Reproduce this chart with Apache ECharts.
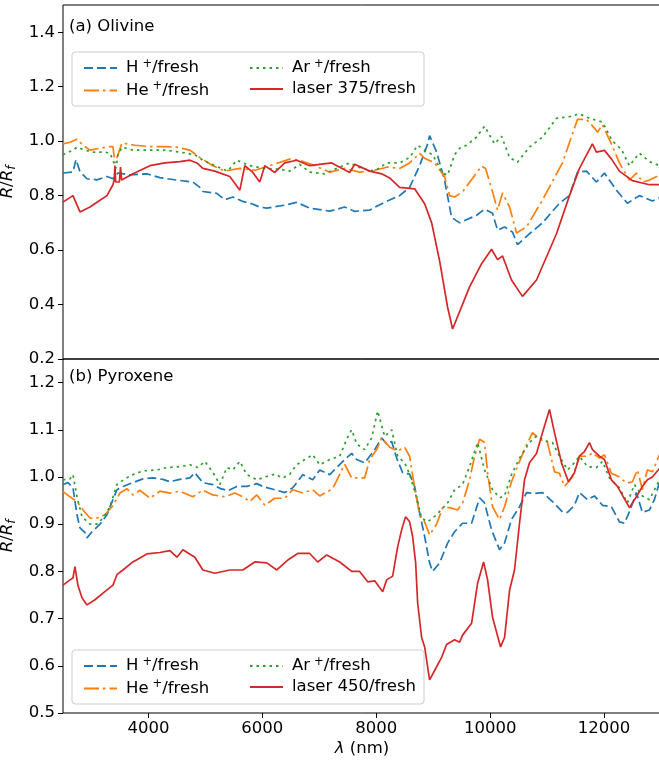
<!DOCTYPE html>
<html><head><meta charset="utf-8">
<script src="https://cdn.jsdelivr.net/npm/echarts@6/dist/echarts.min.js"></script>
<style>html,body{margin:0;padding:0;background:#fff}#c{width:659px;height:762px}</style>
</head><body><div id="c"></div>
<script>
// ---- axis ticks ----
const xTicks = [4000, 6000, 8000, 10000, 12000];
const olTicks = [0.2, 0.4, 0.6, 0.8, 1.0, 1.2, 1.4];
const pyTicks = [0.5, 0.6, 0.7, 0.8, 0.9, 1.0, 1.1, 1.2];

// ---- (a) Olivine ----
const olH_x = [2500,2675,2728,2798,2921,3096,3272,3377,3465,3675,3973,4201,4500,4780,4903,4956,5200,5341,5482,5640,5815,5955,6078,6394,6604,6832,7183,7446,7622,7885,8148,8411,8586,8762,8903,8937,9060,9200,9323,9464,9499,9762,9902,10042,10130,10253,10393,10481,10691,10919,11217,11393,11533,11691,11866,12007,12217,12410,12621,12849,13000];
const olH_y = [0.883,0.887,0.932,0.888,0.862,0.858,0.87,0.862,0.883,0.876,0.88,0.866,0.857,0.85,0.83,0.815,0.808,0.785,0.795,0.78,0.77,0.758,0.754,0.765,0.775,0.754,0.743,0.758,0.742,0.747,0.776,0.80,0.83,0.91,0.99,1.02,0.96,0.857,0.72,0.70,0.70,0.728,0.75,0.735,0.673,0.685,0.666,0.62,0.66,0.70,0.772,0.80,0.886,0.89,0.85,0.883,0.82,0.772,0.80,0.78,0.795];

const olHe_x = [2500,2623,2746,2851,2974,3149,3324,3377,3412,3465,3535,3763,4026,4254,4500,4728,4903,5131,5341,5605,5868,6131,6482,6657,6920,7183,7446,7709,7973,8201,8411,8586,8762,8850,9025,9200,9288,9376,9516,9692,9850,9920,10042,10130,10218,10341,10463,10639,10919,11270,11533,11691,11831,11884,11972,12129,12270,12445,12568,12673,12796,13000];
const olHe_y = [0.99,0.996,1.007,0.985,0.967,0.974,0.98,0.98,0.92,0.95,0.993,0.985,0.98,0.98,0.978,0.967,0.94,0.91,0.89,0.90,0.893,0.91,0.934,0.93,0.91,0.886,0.90,0.886,0.893,0.905,0.90,0.92,0.955,0.937,0.92,0.87,0.80,0.795,0.814,0.864,0.908,0.90,0.814,0.747,0.81,0.758,0.663,0.685,0.784,0.92,1.08,1.08,1.048,1.033,1.06,0.99,0.92,0.857,0.883,0.85,0.857,0.878];

const olAr_x = [2500,2675,2746,2886,3026,3237,3324,3377,3430,3465,3535,3728,4026,4289,4552,4815,4956,5166,5394,5552,5780,6043,6306,6482,6657,6832,7096,7306,7534,7744,7973,8183,8411,8586,8727,8850,8990,9165,9253,9376,9464,9586,9762,9902,10077,10200,10341,10481,10691,10919,11165,11393,11568,11744,11972,12147,12305,12445,12621,12796,13000];
const olAr_y = [0.95,0.967,0.978,0.967,0.96,0.96,0.956,0.93,0.90,0.95,0.978,0.967,0.967,0.967,0.96,0.95,0.93,0.91,0.89,0.93,0.91,0.90,0.897,0.89,0.915,0.886,0.88,0.90,0.92,0.90,0.89,0.92,0.92,0.94,0.985,0.967,0.95,0.883,0.875,0.95,0.974,0.985,1.015,1.055,0.99,1.018,0.94,0.923,0.978,1.015,1.084,1.09,1.10,1.084,1.07,1.0,0.97,0.91,0.956,0.925,0.908];

const olLaser_x = [2500,2675,2798,2850,2974,3149,3272,3377,3400,3412,3425,3490,3510,3530,3728,4026,4289,4552,4728,4850,4956,5166,5429,5605,5692,5833,5955,6043,6218,6394,6604,6832,7218,7534,7622,7885,8095,8236,8411,8674,8850,8973,9113,9253,9341,9639,9850,10025,10130,10218,10375,10568,10814,11165,11393,11568,11796,11866,12007,12129,12270,12498,12796,13000];
const olLaser_y = [0.776,0.80,0.74,0.745,0.758,0.783,0.80,0.84,0.86,0.91,0.85,0.85,0.905,0.857,0.88,0.91,0.92,0.925,0.93,0.92,0.90,0.89,0.87,0.82,0.91,0.885,0.85,0.91,0.885,0.92,0.93,0.91,0.92,0.885,0.915,0.89,0.88,0.865,0.83,0.825,0.77,0.70,0.56,0.39,0.31,0.465,0.55,0.603,0.565,0.578,0.49,0.43,0.49,0.66,0.80,0.90,0.99,0.96,0.966,0.935,0.89,0.855,0.84,0.84];

// ---- (b) Pyroxene ----
const pyH_x = [2500,2588,2675,2746,2798,2886,2921,3009,3149,3272,3377,3447,3552,3728,3903,4079,4254,4377,4552,4728,4815,4956,5131,5254,5394,5552,5727,5903,6008,6218,6394,6534,6710,6885,7008,7183,7446,7569,7657,7797,7973,8095,8183,8271,8359,8464,8586,8674,8762,8850,8937,8990,9113,9253,9376,9516,9674,9815,9902,10025,10165,10253,10375,10516,10639,10779,10919,11095,11270,11358,11480,11568,11709,11831,11972,12129,12270,12357,12445,12568,12673,12796,12884,13000];
const pyH_y = [0.984,0.988,0.977,0.92,0.892,0.882,0.871,0.884,0.90,0.92,0.952,0.973,0.98,0.988,0.996,0.998,0.995,0.99,0.995,0.998,1.009,0.988,0.984,0.976,0.971,0.98,0.98,0.986,0.98,0.973,0.967,0.977,1.005,0.994,1.015,1.005,1.037,1.05,1.037,1.03,1.058,1.083,1.07,1.075,1.04,1.009,1.006,0.98,0.924,0.874,0.818,0.80,0.818,0.86,0.884,0.902,0.902,0.956,0.945,0.888,0.846,0.86,0.91,0.937,0.967,0.965,0.967,0.948,0.926,0.925,0.94,0.967,0.952,0.96,0.94,0.937,0.905,0.902,0.926,0.967,0.925,0.93,0.952,1.0];

const pyHe_x = [2500,2623,2746,2851,2974,3096,3237,3377,3500,3623,3728,3851,4026,4201,4377,4552,4780,4956,5131,5341,5517,5657,5780,5903,6043,6218,6394,6534,6710,6885,7008,7236,7446,7569,7797,7885,8008,8095,8236,8376,8499,8586,8674,8762,8850,8937,9060,9165,9288,9428,9516,9639,9727,9815,9902,9955,10042,10165,10253,10375,10516,10639,10744,10867,11007,11130,11217,11305,11445,11568,11709,11796,11919,12007,12129,12270,12393,12498,12586,12673,12761,12849,13000];
const pyHe_y = [0.969,0.958,0.948,0.93,0.913,0.913,0.92,0.939,0.966,0.975,0.962,0.972,0.955,0.97,0.966,0.97,0.958,0.972,0.962,0.958,0.966,0.958,0.948,0.962,0.94,0.955,0.955,0.973,0.966,0.973,0.96,0.975,1.027,0.998,0.998,1.037,1.058,1.083,1.063,1.055,1.063,1.044,0.977,0.92,0.905,0.877,0.90,0.935,0.935,0.93,0.945,0.994,1.044,1.08,1.073,1.009,0.937,0.91,0.937,0.99,1.033,1.068,1.094,1.08,1.073,1.011,1.008,0.98,1.0,1.044,1.044,1.051,1.04,1.047,1.008,1.0,0.987,0.99,1.015,0.973,1.015,1.011,1.055];

const pyAr_x = [2500,2623,2675,2746,2833,2974,3096,3202,3324,3447,3587,3728,3903,4149,4324,4552,4728,4868,4991,5131,5254,5377,5482,5605,5727,5903,6043,6218,6359,6482,6604,6745,6885,7008,7183,7359,7481,7569,7657,7797,7920,8025,8148,8271,8376,8499,8586,8709,8797,8903,9060,9253,9376,9516,9639,9780,9902,10042,10165,10253,10375,10516,10691,10814,10954,11095,11217,11358,11480,11568,11709,11866,11972,12094,12270,12410,12533,12673,12796,13000];
const pyAr_y = [0.994,0.996,1.005,0.958,0.916,0.90,0.90,0.913,0.937,0.984,0.996,1.005,1.013,1.015,1.02,1.022,1.026,1.02,1.033,1.01,0.984,1.02,1.015,1.033,1.005,0.994,1.0,1.006,0.998,1.006,1.026,1.037,1.047,1.026,1.037,1.044,1.08,1.10,1.07,1.058,1.083,1.14,1.086,1.10,1.044,1.03,1.006,0.956,0.913,0.905,0.92,0.945,0.973,0.984,1.022,1.073,1.015,0.973,0.956,0.96,1.005,1.04,1.073,1.087,1.077,1.073,1.044,1.015,1.03,1.044,1.022,1.02,1.033,0.998,0.977,0.945,0.984,0.96,0.952,1.0];

const pyLaser_x = [2500,2623,2675,2710,2763,2833,2921,3061,3202,3377,3447,3552,3728,3973,4201,4377,4500,4605,4815,4956,5166,5429,5657,5868,6078,6254,6447,6622,6832,6973,7131,7359,7569,7709,7850,7973,8113,8183,8288,8376,8446,8516,8586,8639,8692,8727,8797,8850,8937,9025,9148,9235,9376,9464,9516,9674,9780,9885,9955,10042,10183,10253,10341,10428,10516,10604,10691,10814,10919,11042,11130,11253,11375,11480,11568,11656,11744,11796,11919,12007,12129,12235,12445,12568,12673,12761,12849,13000];
const pyLaser_y = [0.771,0.782,0.786,0.81,0.77,0.744,0.729,0.74,0.754,0.771,0.793,0.803,0.82,0.837,0.84,0.844,0.83,0.846,0.83,0.803,0.796,0.803,0.803,0.82,0.818,0.803,0.824,0.838,0.838,0.82,0.835,0.82,0.80,0.80,0.778,0.78,0.757,0.782,0.79,0.852,0.888,0.916,0.905,0.874,0.818,0.733,0.66,0.64,0.57,0.59,0.618,0.645,0.655,0.65,0.665,0.69,0.775,0.82,0.782,0.703,0.64,0.66,0.76,0.803,0.902,0.994,1.03,1.05,1.094,1.143,1.094,1.03,0.99,1.009,1.044,1.054,1.073,1.058,1.044,1.037,0.994,0.98,0.935,0.958,0.98,0.994,1.0,1.022];

// ---- styles ----
const FONT = 'DejaVu Sans';
const C = {H: '#1f77b4', He: '#ff7f0e', Ar: '#2ca02c', L: '#d62728'};
const LW = 1.7;
const DASH = {H: [9, 4], He: [15, 4, 2.5, 4], Ar: [2.5, 4], L: 'solid'};

const zip = (xs, ys) => xs.map((x, i) => [x, ys[i]]);
function mk(name, key, xs, ys, idx) {
  return {
    name, type: 'line', xAxisIndex: idx, yAxisIndex: idx,
    data: zip(xs, ys), symbol: 'none', showSymbol: false, animation: false,
    lineStyle: {color: C[key], width: LW, type: DASH[key]},
    itemStyle: {color: C[key]}, z: 3
  };
}

const richLegend = {
  a: {fontFamily: FONT, fontSize: 16.5, lineHeight: 20, color: '#000'},
  s: {fontFamily: FONT, fontSize: 11.5, lineHeight: 12, verticalAlign: 'top', padding: [0, 0, 0, 4], color: '#000'}
};
function legFmt(name) {
  const m = name.match(/^(H|He|Ar)\+\/fresh$/);
  if (m) return '{a|' + m[1] + '}{s|+}{a|/fresh}';
  return '{a|' + name + '}';
}
function legend(left, top, data) {
  return {
    left, top, orient: 'vertical', itemWidth: 33, itemHeight: 14, itemGap: 4,
    data, formatter: legFmt, selectedMode: false, z: 10,
    itemStyle: {opacity: 0, borderWidth: 0},
    textStyle: {rich: richLegend, padding: [0, 0, 0, 4]}
  };
}

const yName = {
  name: '{i|R}{n|/}{i|R}{f|f}',
  nameLocation: 'middle', nameRotate: 90, nameGap: 36,
  nameTextStyle: {rich: {
    i: {fontFamily: FONT, fontSize: 16.5, fontStyle: 'italic', color: '#000', lineHeight: 20},
    n: {fontFamily: FONT, fontSize: 16.5, color: '#000', lineHeight: 20},
    f: {fontFamily: FONT, fontSize: 12, fontStyle: 'italic', color: '#000', lineHeight: 12, verticalAlign: 'bottom'}
  }}
};

function yAxis(idx, min, max, ticks) {
  return Object.assign({
    type: 'value', gridIndex: idx, min, max,
    axisLine: {show: false}, splitLine: {show: false},
    axisTick: {show: true, length: 5, lineStyle: {color: '#000', width: 1}, customValues: ticks},
    axisLabel: {customValues: ticks, formatter: v => v.toFixed(1), fontFamily: FONT, fontSize: 16.5, color: '#000', margin: 8}
  }, yName);
}

const gridBase = {left: 63, width: 598, height: 354, show: true, borderColor: '#000', borderWidth: 1,
  backgroundColor: 'transparent', containLabel: false, outerBoundsMode: 'none'};

const option = {
  backgroundColor: '#fff',
  animation: false,
  grid: [
    Object.assign({top: 5}, gridBase),
    Object.assign({top: 359}, gridBase)
  ],
  xAxis: [
    {type: 'value', gridIndex: 0, min: 2500, max: 13000, axisLine: {show: false}, axisTick: {show: false}, axisLabel: {show: false}, splitLine: {show: false}},
    {type: 'value', gridIndex: 1, min: 2500, max: 13000, axisLine: {show: false}, splitLine: {show: false},
     axisTick: {show: true, length: 5, lineStyle: {color: '#000', width: 1}, customValues: xTicks},
     axisLabel: {customValues: xTicks, formatter: v => String(v), fontFamily: FONT, fontSize: 16.5, color: '#000', margin: 7},
     name: '{i|λ}{n| (nm)}', nameLocation: 'middle', nameGap: 27,
     nameTextStyle: {rich: {
       i: {fontFamily: FONT, fontSize: 16.5, fontStyle: 'italic', color: '#000'},
       n: {fontFamily: FONT, fontSize: 16.5, color: '#000'}
     }}}
  ],
  yAxis: [yAxis(0, 0.2, 1.5, olTicks), yAxis(1, 0.5, 1.25, pyTicks)],
  legend: [
    legend(78, 53, ['H+/fresh', 'He+/fresh']),
    legend(244, 53, ['Ar+/fresh', 'laser 375/fresh']),
    legend(78, 651, ['H+/fresh', 'He+/fresh']),
    legend(244, 651, ['Ar+/fresh', 'laser 450/fresh'])
  ],
  graphic: [
    {type: 'rect', z: 1, shape: {x: 72, y: 52, width: 352, height: 54, r: 3}, style: {fill: '#fff', stroke: '#cccccc', lineWidth: 1}},
    {type: 'rect', z: 1, shape: {x: 72, y: 650, width: 352, height: 54, r: 3}, style: {fill: '#fff', stroke: '#cccccc', lineWidth: 1}},
    {type: 'text', z: 5, style: {x: 69, y: 27, text: '(a) Olivine', fontFamily: FONT, fontSize: 16.5, fill: '#000', verticalAlign: 'middle'}},
    {type: 'text', z: 5, style: {x: 69, y: 377, text: '(b) Pyroxene', fontFamily: FONT, fontSize: 16.5, fill: '#000', verticalAlign: 'middle'}}
  ],
  series: [
    mk('H+/fresh', 'H', olH_x, olH_y, 0),
    mk('He+/fresh', 'He', olHe_x, olHe_y, 0),
    mk('Ar+/fresh', 'Ar', olAr_x, olAr_y, 0),
    mk('laser 375/fresh', 'L', olLaser_x, olLaser_y, 0),
    mk('H+/fresh', 'H', pyH_x, pyH_y, 1),
    mk('He+/fresh', 'He', pyHe_x, pyHe_y, 1),
    mk('Ar+/fresh', 'Ar', pyAr_x, pyAr_y, 1),
    mk('laser 450/fresh', 'L', pyLaser_x, pyLaser_y, 1)
  ]
};
const chart = echarts.init(document.getElementById('c'), null, {renderer: 'canvas'});
chart.setOption(option);
</script></body></html>
